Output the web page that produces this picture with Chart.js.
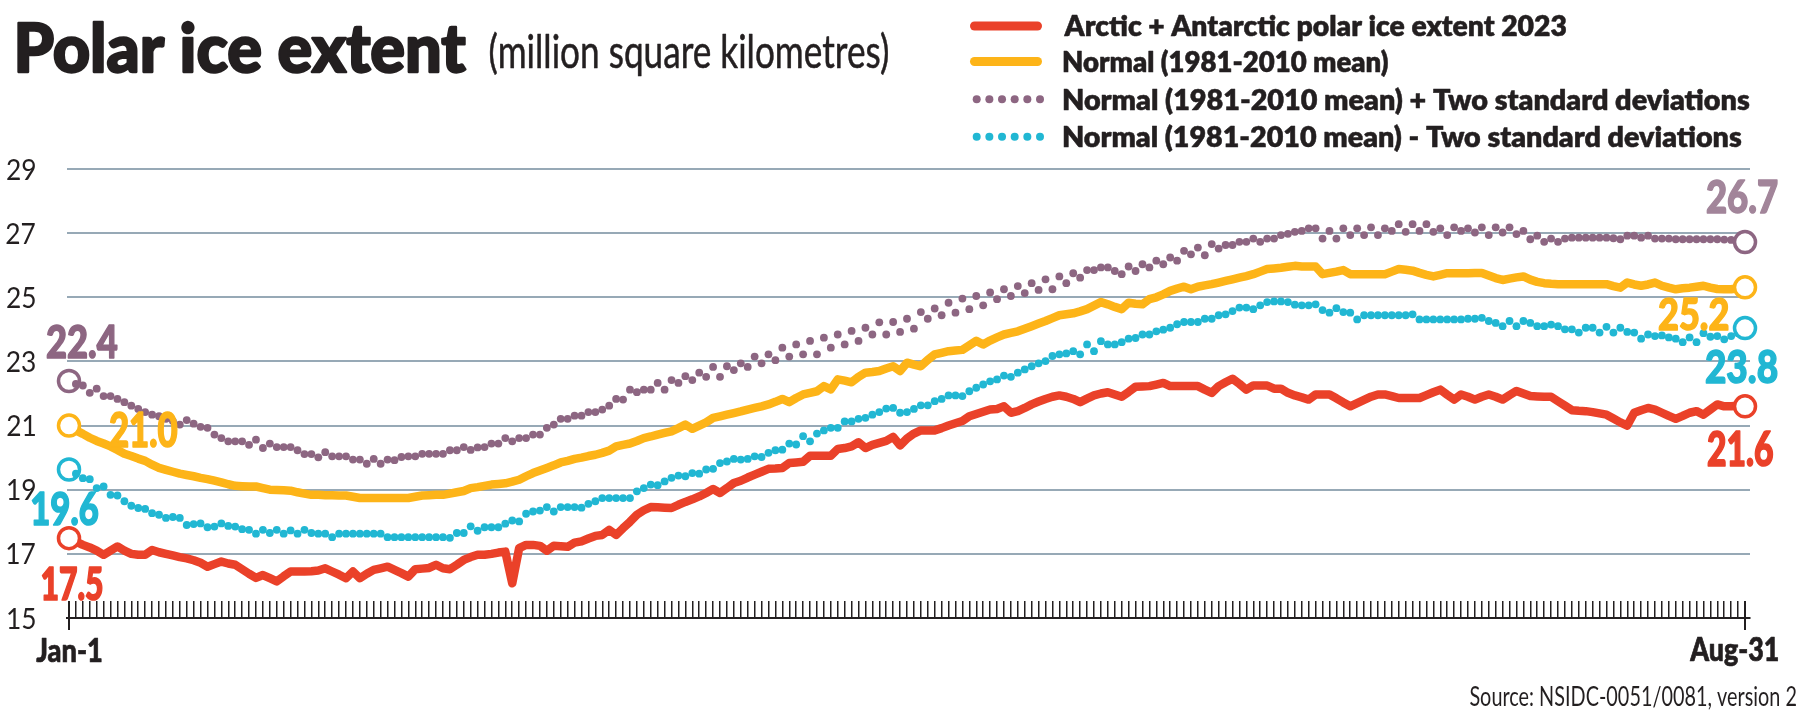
<!DOCTYPE html>
<html><head><meta charset="utf-8">
<script src="https://cdn.jsdelivr.net/npm/chart.js@4"></script>
<style>html,body{margin:0;padding:0;background:#fff;}canvas{display:block;}</style>
</head><body>
<canvas id="c" width="1808" height="715"></canvas>
<script>
// ---- DATA (million km², daily, Jan-1 .. Aug-31 2023) ----
const xTickLabels = ['Jan-1', 'Aug-31'];
const yTicks = [15, 17, 19, 21, 23, 25, 27, 29];
const seriesNames = [
  'Arctic + Antarctic polar ice extent 2023',
  'Normal (1981-2010 mean)',
  'Normal (1981-2010 mean) + Two standard deviations',
  'Normal (1981-2010 mean) - Two standard deviations'
];
const startLabels = ['17.5', '21.0', '22.4', '19.6'];
const endLabels = ['21.6', '25.2', '26.7', '23.8'];

const extent2023 = [
17.49,17.38,17.28,17.2,17.1,16.97,17.1,17.23,17.1,17.0,
16.97,16.97,17.12,17.05,17.0,16.95,16.9,16.86,16.8,16.72,
16.6,16.68,16.76,16.7,16.66,16.52,16.38,16.25,16.34,16.24,
16.14,16.3,16.45,16.45,16.45,16.46,16.48,16.55,16.45,16.35,
16.24,16.45,16.24,16.38,16.5,16.55,16.6,16.5,16.4,16.29,
16.52,16.54,16.56,16.66,16.55,16.52,16.66,16.81,16.9,16.97,
16.97,17.0,17.04,17.07,16.08,17.18,17.28,17.28,17.25,17.1,
17.25,17.24,17.22,17.35,17.39,17.48,17.56,17.59,17.75,17.59,
17.8,18.0,18.22,18.36,18.46,18.45,18.44,18.43,18.53,18.62,
18.7,18.79,18.9,19.02,18.9,19.05,19.21,19.28,19.38,19.47,
19.56,19.65,19.66,19.68,19.83,19.85,19.87,20.06,20.06,20.06,
20.06,20.27,20.3,20.35,20.48,20.3,20.4,20.46,20.52,20.65,
20.38,20.6,20.75,20.85,20.85,20.85,20.92,21.0,21.07,21.14,
21.29,21.36,21.43,21.5,21.52,21.6,21.4,21.45,21.55,21.66,
21.75,21.83,21.9,21.94,21.9,21.83,21.73,21.84,21.94,22.0,
22.04,21.97,21.9,22.05,22.21,22.22,22.23,22.28,22.33,22.23,
22.23,22.23,22.23,22.23,22.12,22.02,22.23,22.35,22.46,22.3,
22.12,22.25,22.25,22.25,22.15,22.15,22.02,21.94,21.88,21.81,
21.97,21.97,21.97,21.85,21.72,21.6,21.7,21.8,21.9,21.97,
21.97,21.92,21.86,21.86,21.86,21.86,21.95,22.04,22.12,21.96,
21.81,21.97,21.9,21.81,21.9,21.97,21.9,21.81,21.95,22.08,
22.0,21.92,21.91,21.9,21.9,21.76,21.62,21.48,21.46,21.45,
21.42,21.38,21.34,21.22,21.1,21.0,21.4,21.48,21.55,21.5,
21.4,21.3,21.21,21.3,21.4,21.45,21.34,21.5,21.66,21.6,
21.6,21.62,21.6];

const normalMean = [
21.0,20.85,20.74,20.62,20.52,20.44,20.35,20.24,20.12,20.05,
19.97,19.9,19.78,19.68,19.62,19.56,19.5,19.46,19.42,19.37,
19.33,19.28,19.23,19.17,19.12,19.11,19.1,19.1,19.05,19.0,
18.99,18.98,18.97,18.92,18.88,18.84,18.84,18.83,18.83,18.82,
18.82,18.78,18.74,18.74,18.74,18.74,18.74,18.74,18.74,18.74,
18.78,18.82,18.83,18.84,18.84,18.88,18.92,18.96,19.05,19.08,
19.12,19.16,19.18,19.2,19.25,19.31,19.42,19.52,19.6,19.68,
19.76,19.85,19.9,19.96,20.0,20.05,20.09,20.15,20.22,20.35,
20.4,20.44,20.52,20.61,20.66,20.72,20.77,20.82,20.92,21.03,
20.9,21.0,21.1,21.24,21.29,21.34,21.39,21.44,21.5,21.55,
21.6,21.66,21.74,21.83,21.73,21.86,21.97,22.02,22.07,22.23,
22.13,22.44,22.4,22.35,22.52,22.65,22.67,22.7,22.78,22.85,
22.7,22.96,22.9,22.85,23.05,23.22,23.27,23.32,23.34,23.36,
23.5,23.64,23.53,23.65,23.75,23.84,23.89,23.94,24.02,24.1,
24.18,24.26,24.35,24.44,24.47,24.5,24.56,24.63,24.74,24.85,
24.78,24.7,24.63,24.83,24.8,24.78,24.94,25.0,25.09,25.2,
25.27,25.33,25.25,25.33,25.37,25.41,25.46,25.51,25.56,25.61,
25.66,25.72,25.8,25.88,25.9,25.92,25.95,25.98,25.96,25.96,
25.96,25.72,25.76,25.8,25.85,25.72,25.72,25.72,25.72,25.72,
25.72,25.8,25.88,25.86,25.83,25.76,25.7,25.65,25.7,25.75,
25.75,25.75,25.75,25.76,25.76,25.68,25.6,25.54,25.58,25.62,
25.65,25.55,25.48,25.44,25.42,25.41,25.41,25.41,25.41,25.41,
25.41,25.41,25.41,25.35,25.3,25.46,25.4,25.36,25.4,25.46,
25.36,25.3,25.25,25.28,25.3,25.33,25.36,25.3,25.26,25.25,
25.25,25.28,25.31];

const normalPlus2sd = [
22.39,22.3,22.25,22.02,22.15,21.92,21.92,21.83,21.73,21.62,
21.52,21.42,21.34,21.29,21.21,21.14,21.03,21.17,21.06,20.96,
20.93,20.72,20.61,20.51,20.51,20.51,20.4,20.56,20.3,20.44,
20.33,20.33,20.33,20.23,20.11,20.11,20.01,20.17,20.04,20.04,
20.04,19.94,19.94,19.81,19.96,19.81,19.94,19.92,20.02,20.04,
20.04,20.12,20.12,20.12,20.12,20.23,20.23,20.33,20.24,20.32,
20.33,20.44,20.44,20.61,20.51,20.61,20.61,20.72,20.72,20.93,
21.03,21.21,21.21,21.31,21.31,21.42,21.42,21.5,21.62,21.83,
21.81,22.12,22.04,22.12,22.12,22.33,22.12,22.42,22.33,22.54,
22.42,22.65,22.52,22.83,22.52,22.85,22.73,22.94,22.83,23.15,
22.94,23.22,23.04,23.43,23.15,23.53,23.22,23.64,23.22,23.74,
23.43,23.84,23.53,23.95,23.64,24.05,23.84,24.22,23.84,24.23,
23.92,24.33,24.02,24.54,24.33,24.65,24.44,24.83,24.52,24.96,
24.63,25.04,24.75,25.15,24.94,25.25,25.04,25.35,25.13,25.44,
25.23,25.56,25.25,25.65,25.44,25.75,25.61,25.85,25.85,25.93,
25.93,25.82,25.72,25.96,25.82,26.03,25.93,26.14,26.03,26.24,
26.14,26.45,26.34,26.55,26.31,26.66,26.52,26.63,26.63,26.73,
26.73,26.83,26.73,26.83,26.83,26.94,26.98,27.04,27.07,27.15,
27.15,26.83,27.07,26.83,27.15,26.94,27.15,26.94,27.18,26.94,
27.15,27.07,27.28,27.04,27.28,27.07,27.28,27.04,27.15,26.94,
27.18,27.07,27.15,27.02,27.18,26.94,27.18,27.02,27.18,26.97,
27.07,26.81,26.92,26.73,26.83,26.73,26.83,26.86,26.86,26.86,
26.86,26.86,26.86,26.84,26.81,26.92,26.92,26.86,26.92,26.83,
26.83,26.83,26.81,26.81,26.81,26.81,26.81,26.81,26.81,26.8,
26.79,26.76,26.72];

const normalMinus2sd = [
19.63,19.5,19.36,19.33,19.05,19.1,18.84,18.82,18.64,18.5,
18.43,18.4,18.27,18.22,18.12,18.15,18.12,17.9,17.93,17.95,
17.83,17.85,17.95,17.87,17.85,17.77,17.75,17.63,17.75,17.65,
17.75,17.63,17.73,17.63,17.75,17.65,17.63,17.63,17.52,17.63,
17.63,17.63,17.63,17.63,17.63,17.63,17.52,17.52,17.52,17.52,
17.52,17.52,17.52,17.52,17.52,17.5,17.65,17.65,17.86,17.72,
17.83,17.83,17.83,17.94,18.04,18.01,18.25,18.32,18.35,18.46,
18.32,18.46,18.46,18.46,18.44,18.56,18.64,18.74,18.74,18.74,
18.74,18.74,18.95,19.05,19.16,19.14,19.26,19.37,19.44,19.42,
19.52,19.5,19.63,19.65,19.83,19.88,19.96,19.94,19.96,20.04,
20.02,20.15,20.23,20.25,20.44,20.41,20.67,20.51,20.75,20.85,
20.93,20.93,21.13,21.13,21.21,21.24,21.34,21.42,21.53,21.55,
21.4,21.42,21.52,21.63,21.63,21.76,21.83,21.94,21.94,21.92,
22.07,22.18,22.28,22.38,22.44,22.56,22.52,22.65,22.75,22.85,
22.94,23.01,23.17,23.22,23.25,23.32,23.22,23.53,23.32,23.63,
23.53,23.53,23.6,23.71,23.73,23.84,23.84,23.94,23.99,24.05,
24.16,24.23,24.23,24.23,24.33,24.33,24.44,24.47,24.57,24.68,
24.68,24.63,24.75,24.85,24.87,24.87,24.85,24.77,24.75,24.75,
24.78,24.6,24.52,24.66,24.54,24.52,24.31,24.44,24.44,24.44,
24.44,24.44,24.44,24.44,24.47,24.31,24.31,24.31,24.31,24.31,
24.31,24.31,24.33,24.33,24.36,24.26,24.2,24.1,24.26,24.1,
24.26,24.2,24.1,24.1,24.15,24.1,24.0,24.0,23.9,24.05,
24.05,23.9,24.08,23.9,24.05,23.92,23.9,23.71,23.84,23.79,
23.81,23.75,23.71,23.6,23.75,23.6,23.88,23.77,23.79,23.69,
23.79,23.88,24.04];

// ---- STYLE ----
const RED = '#ea4129', YEL = '#fdb418', PUR = '#8d6682', PUR_L = '#a2859a', CYA = '#21b7d3';
const INK = '#231f20', GRID = '#97a9b6';
const FAMILY = 'Lato, "Noto Sans", sans-serif';

const lastIdx = extent2023.length - 1;
const toXY = arr => arr.map((v, i) => ({x: i, y: v}));
const isEnd = ctx => ctx.dataIndex === 0 || ctx.dataIndex === lastIdx;

function lineSet(label, data, color) {
  return {
    label, data: toXY(data), borderColor: color, borderWidth: 8.5,
    borderJoinStyle: 'round', borderCapStyle: 'round', tension: 0, clip: false,
    pointRadius: c => isEnd(c) ? 10.5 : 0,
    pointBorderWidth: 3.5, pointBorderColor: color, pointBackgroundColor: '#fff'
  };
}
function dotSet(label, data, color) {
  return {
    label, data: toXY(data), showLine: false, clip: false,
    pointRadius: c => isEnd(c) ? 10.5 : 3.9,
    pointBorderWidth: c => isEnd(c) ? 3.5 : 0,
    pointBorderColor: color,
    pointBackgroundColor: c => isEnd(c) ? '#fff' : color
  };
}

// draws text so that its ink fills the box [x0,x1] x [top,base]; optional stroke thickens it
function fitText(ctx, s, x0, x1, top, base, weight, color, ref, thick) {
  ctx.save();
  ctx.font = weight + ' 100px ' + FAMILY;
  ctx.textAlign = 'left'; ctx.textBaseline = 'alphabetic';
  const m = ctx.measureText(s);
  const h = ctx.measureText(ref || 'H').actualBoundingBoxAscent;
  const w = m.actualBoundingBoxLeft + m.actualBoundingBoxRight;
  const sx = (x1 - x0) / w, sy = (base - top) / h;
  ctx.translate(x0, base);
  ctx.scale(sx, sy);
  ctx.fillStyle = color;
  ctx.fillText(s, m.actualBoundingBoxLeft, 0);
  if (thick) {
    ctx.strokeStyle = color; ctx.lineJoin = 'round';
    ctx.lineWidth = thick / sx;
    ctx.strokeText(s, m.actualBoundingBoxLeft, 0);
  }
  ctx.restore();
}

const decor = {
  id: 'decor',
  afterDraw(chart) {
    const ctx = chart.ctx, xs = chart.scales.x, ys = chart.scales.y;
    const p0 = xs.getPixelForValue(0), pN = xs.getPixelForValue(lastIdx);
    // end ticks
    ctx.save(); ctx.strokeStyle = INK; ctx.lineWidth = 2;
    [p0, pN].forEach(px => { ctx.beginPath(); ctx.moveTo(px, 601); ctx.lineTo(px, 630); ctx.stroke(); });
    ctx.restore();
    // y tick labels
    ctx.save();
    ctx.font = '400 100px ' + FAMILY;
    const mRef = ctx.measureText('29');
    const sx = 28 / (mRef.actualBoundingBoxLeft + mRef.actualBoundingBoxRight);
    const sy = 21 / ctx.measureText('2').actualBoundingBoxAscent;
    ctx.fillStyle = INK; ctx.textBaseline = 'alphabetic';
    yTicks.forEach(v => {
      const py = ys.getPixelForValue(v);
      const t = String(v), m = ctx.measureText(t);
      ctx.save(); ctx.translate(35, py + 10.5); ctx.scale(sx, sy);
      ctx.fillText(t, -m.actualBoundingBoxRight, 0); ctx.restore();
    });
    ctx.restore();
    // x labels
    fitText(ctx, xTickLabels[0], p0 - 32.5, p0 + 32.5, 638, 662, 900, INK, 'H', 0.6);
    fitText(ctx, xTickLabels[1], pN - 55, pN + 33, 637, 661, 900, INK, 'H', 0.6);
    // start / end value labels
    fitText(ctx, startLabels[2], 47, 117, 325, 358, 900, PUR, '2', 1.2);
    fitText(ctx, startLabels[1], 110, 177, 413, 447, 900, YEL, '2', 1.2);
    fitText(ctx, startLabels[3], 32, 98, 492, 525, 900, CYA, '1', 1.2);
    fitText(ctx, startLabels[0], 42, 102, 567, 600, 900, RED, '1', 1.2);
    fitText(ctx, endLabels[2], 1707, 1777, 180, 213, 900, PUR_L, '2', 1.2);
    fitText(ctx, endLabels[1], 1659, 1728, 298, 330, 900, YEL, '2', 1.2);
    fitText(ctx, endLabels[3], 1706, 1777, 350, 383, 900, CYA, '2', 1.2);
    fitText(ctx, endLabels[0], 1708, 1773, 432, 466, 900, RED, '2', 1.2);
    // title
    fitText(ctx, 'Polar ice extent', 18, 466, 23, 72, 900, INK, 'H', 2.2);
    fitText(ctx, '(million square kilometres)', 490, 888, 33, 68, 400, INK, 'l', 0.4);
    // legend
    ctx.save(); ctx.lineCap = 'round'; ctx.lineWidth = 9;
    [[RED, 26], [YEL, 61.5]].forEach(([c, y]) => {
      ctx.strokeStyle = c; ctx.beginPath(); ctx.moveTo(974.5, y); ctx.lineTo(1037.5, y); ctx.stroke();
    });
    [[PUR, 99.3], [CYA, 136.7]].forEach(([c, y]) => {
      ctx.fillStyle = c;
      for (let k = 0; k < 6; k++) { ctx.beginPath(); ctx.arc(976.7 + k * 12.66, y, 4, 0, Math.PI * 2); ctx.fill(); }
    });
    ctx.restore();
    fitText(ctx, seriesNames[0], 1064, 1566, 14.5, 36, 800, INK, 'H', 0.5);
    fitText(ctx, seriesNames[1], 1064, 1388, 50.5, 72, 800, INK, 'H', 0.5);
    fitText(ctx, seriesNames[2], 1064, 1749, 88, 109.5, 800, INK, 'H', 0.5);
    fitText(ctx, seriesNames[3], 1064, 1741, 125, 146.5, 800, INK, 'H', 0.5);
    // source
    fitText(ctx, 'Source: NSIDC-0051/0081, version 2', 1470, 1796, 687, 706, 400, INK);
  }
};

new Chart(document.getElementById('c'), {
  type: 'line',
  data: {
    datasets: [
      lineSet(seriesNames[0], extent2023, RED),
      lineSet(seriesNames[1], normalMean, YEL),
      dotSet(seriesNames[2], normalPlus2sd, PUR),
      dotSet(seriesNames[3], normalMinus2sd, CYA)
    ]
  },
  options: {
    responsive: false, animation: false, devicePixelRatio: 1,
    layout: {padding: {top: 169, right: 58, bottom: 77, left: 0}},
    plugins: {legend: {display: false}, tooltip: {enabled: false}, title: {display: false}},
    scales: {
      x: {
        type: 'linear', min: -0.33, max: 242.72,
        afterFit: s => { s.height = 20; },
        border: {display: true, color: INK, width: 2},
        grid: {drawOnChartArea: false, drawTicks: true, tickLength: -17, color: INK, lineWidth: 1.5},
        ticks: {display: false, stepSize: 1, includeBounds: false, autoSkip: false, maxTicksLimit: 1000}
      },
      y: {
        min: 15, max: 29,
        afterFit: s => { s.width = 66.7; },
        border: {display: false},
        grid: {drawTicks: false, lineWidth: 2, color: c => c.tick && c.tick.value === 15 ? INK : GRID},
        ticks: {display: false, stepSize: 2}
      }
    }
  },
  plugins: [decor]
});
</script></body></html>
